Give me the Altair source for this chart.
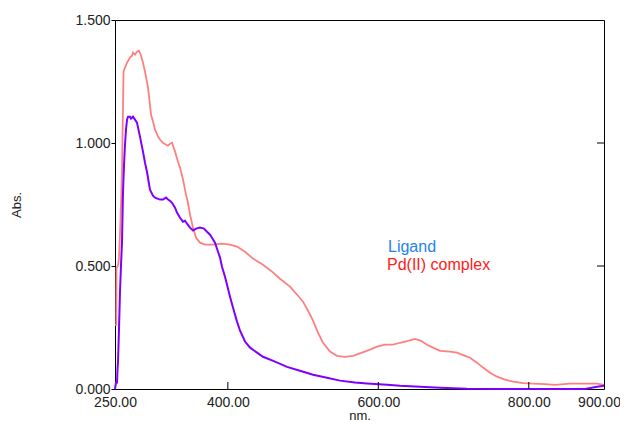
import altair as alt
import pandas as pd

# Pd(II) complex spectrum (nm, Abs.)
pd_nm = [250.0, 251.7, 252.0, 254.0, 255.3, 256.6, 258.0, 259.3, 260.6, 261.3, 263.3, 265.9, 269.9,
         272.6, 273.9, 276.6, 279.2, 281.9, 284.6, 287.2, 289.9, 293.9, 297.9, 300.5, 303.2, 307.2,
         309.8, 313.8, 317.8, 320.5, 323.1, 325.8, 329.8, 333.7, 336.4, 340.4, 344.4, 347.0, 349.7,
         353.7, 357.7, 363.0, 369.6, 380.3, 392.2, 402.9, 412.2, 422.8, 433.4, 446.7, 458.7, 469.3,
         482.6, 493.3, 499.9, 506.6, 513.2, 519.8, 526.5, 535.8, 545.1, 555.7, 566.4, 578.3, 589.0,
         598.3, 608.9, 619.5, 628.9, 639.5, 648.8, 656.8, 664.7, 672.7, 682.0, 695.3, 704.6, 715.3,
         721.9, 731.2, 739.2, 748.5, 757.8, 768.4, 779.1, 792.4, 805.6, 821.6, 834.9, 854.8, 874.8,
         890.7, 900.0]
pd_abs = [0.261, 0.261, 0.493, 0.501, 0.534, 0.627, 0.749, 0.892, 1.135, 1.290, 1.306, 1.326, 1.347,
          1.355, 1.367, 1.359, 1.371, 1.375, 1.355, 1.326, 1.290, 1.225, 1.115, 1.087, 1.054, 1.026,
          1.014, 1.001, 0.993, 0.989, 0.997, 1.001, 0.965, 0.924, 0.900, 0.851, 0.790, 0.757, 0.709,
          0.656, 0.615, 0.595, 0.587, 0.587, 0.591, 0.587, 0.579, 0.558, 0.530, 0.505, 0.477, 0.448,
          0.416, 0.379, 0.355, 0.318, 0.278, 0.229, 0.188, 0.152, 0.135, 0.131, 0.135, 0.148, 0.160,
          0.172, 0.180, 0.180, 0.188, 0.196, 0.204, 0.196, 0.180, 0.168, 0.155, 0.152, 0.148, 0.135,
          0.127, 0.107, 0.087, 0.066, 0.050, 0.038, 0.030, 0.024, 0.022, 0.020, 0.017, 0.022, 0.022,
          0.022, 0.017]

# Ligand spectrum (nm, Abs.)
lig_nm = [250.0, 251.3, 252.7, 253.3, 254.0, 255.3, 256.6, 258.0, 259.3, 260.6, 262.0, 263.3, 264.6,
          266.0, 267.3, 269.9, 271.3, 273.9, 276.6, 279.2, 283.2, 287.2, 289.9, 292.5, 296.5, 300.5,
          303.2, 309.8, 313.8, 317.8, 320.5, 323.1, 325.8, 329.8, 332.4, 336.4, 340.4, 343.1, 345.7,
          349.7, 353.7, 357.7, 363.0, 368.3, 372.3, 376.3, 378.9, 382.9, 385.6, 389.6, 392.2, 396.2,
          398.9, 402.9, 406.9, 412.2, 416.2, 422.8, 429.5, 438.8, 446.7, 462.7, 478.6, 495.9, 513.2,
          531.8, 549.1, 569.0, 585.0, 611.6, 628.9, 655.4, 682.0, 717.9, 757.8, 868.1, 874.8, 890.7,
          900.0]
lig_abs = [0.0, 0.026, 0.026, 0.078, 0.111, 0.241, 0.391, 0.505, 0.595, 0.798, 0.912, 0.993, 1.054,
           1.095, 1.107, 1.107, 1.099, 1.107, 1.095, 1.083, 1.026, 0.965, 0.920, 0.883, 0.810, 0.786,
           0.778, 0.770, 0.770, 0.778, 0.770, 0.765, 0.757, 0.737, 0.717, 0.696, 0.680, 0.684, 0.672,
           0.656, 0.644, 0.652, 0.656, 0.652, 0.639, 0.627, 0.615, 0.595, 0.570, 0.534, 0.497, 0.456,
           0.424, 0.375, 0.330, 0.274, 0.237, 0.193, 0.168, 0.148, 0.131, 0.111, 0.090, 0.074, 0.058,
           0.046, 0.034, 0.026, 0.022, 0.017, 0.013, 0.009, 0.005, 0.001, 0.0, 0.0, 0.0, 0.009,
           0.013]

x_label_values = [250, 400, 600, 800, 900]
x_tick_values = [400, 600, 800]
y_values = [0.0, 0.5, 1.0, 1.5]
y_inner_ticks = [0.5, 1.0]

FONT = "Liberation Sans"
W, H = 489, 369

df_pd = pd.DataFrame({"nm": pd_nm, "abs": pd_abs})
df_lig = pd.DataFrame({"nm": lig_nm, "abs": lig_abs})

x_scale = alt.Scale(domain=[250, 900], nice=False, zero=False)
y_scale = alt.Scale(domain=[0, 1.5], nice=False, zero=False)

x_axis = alt.Axis(values=x_label_values, format=".2f", ticks=False, tickSize=0, domain=False,
                  grid=False, labelFlush=False, labelPadding=6, labelFontSize=14, labelFont=FONT,
                  labelColor="#222", labelOverlap=False,
                  labelOffset={"condition": {"test": "datum.value == 900", "value": -5}, "value": 0},
                  title="nm.", titleFont=FONT, titleFontSize=13,
                  titleFontWeight="normal", titleColor="#222", titlePadding=0)
y_axis = alt.Axis(values=y_values, format=".3f", tickSize=4, tickColor="#000", domain=False,
                  grid=False, labelPadding=1, labelFontSize=14, labelFont=FONT, labelColor="#222",
                  title="Abs.", titleFont=FONT, titleFontSize=13, titleFontWeight="normal",
                  titleColor="#222", titlePadding=51)

xe = alt.X("nm:Q", scale=x_scale, axis=x_axis)
ye = alt.Y("abs:Q", scale=y_scale, axis=y_axis)

pd_line = alt.Chart(df_pd).mark_line(color="#FF7F7F", strokeWidth=1.8).encode(x=xe, y=ye)
lig_line = alt.Chart(df_lig).mark_line(color="#8000FF", strokeWidth=2).encode(x=xe, y=ye)

xticks = alt.Chart(pd.DataFrame({"nm": x_tick_values})).mark_rule(color="#000", strokeWidth=1).encode(
    x=xe, y=alt.value(H), y2=alt.value(H - 7))
yticks = alt.Chart(pd.DataFrame({"abs": y_inner_ticks})).mark_rule(color="#000", strokeWidth=1).encode(
    y=ye, x=alt.value(W), x2=alt.value(W - 7))

lab1 = alt.Chart(pd.DataFrame({"t": ["Ligand"]})).mark_text(
    align="left", baseline="alphabetic", font=FONT, fontSize=16, color="#1E84F0").encode(
    text="t:N", x=alt.value(273), y=alt.value(232))
lab2 = alt.Chart(pd.DataFrame({"t": ["Pd(II) complex"]})).mark_text(
    align="left", baseline="alphabetic", font=FONT, fontSize=16, color="#FF2020").encode(
    text="t:N", x=alt.value(272), y=alt.value(250))

chart = alt.layer(pd_line, lig_line, xticks, yticks, lab1, lab2).properties(
    width=W, height=H,
    padding={"left": 107, "top": 12, "right": 16, "bottom": 35},
    autosize=alt.AutoSizeParams(type="none"),
    background="white",
).configure_view(stroke="#000000", strokeWidth=1)

chart.save("out.html", embed_options={"renderer": "svg", "actions": False})
